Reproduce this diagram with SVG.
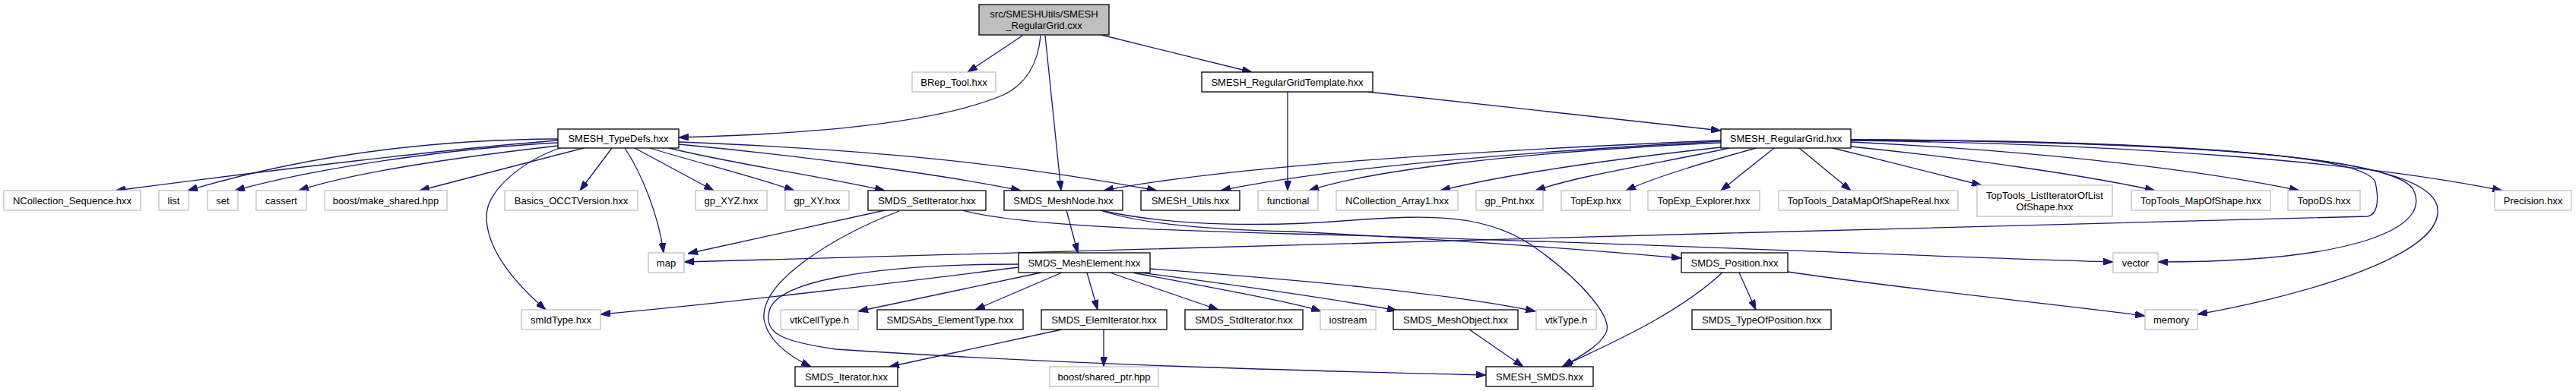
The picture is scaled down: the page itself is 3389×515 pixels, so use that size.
<svg xmlns="http://www.w3.org/2000/svg" width="3389" height="515" viewBox="0 0 3389 515">
<style>
.t{font-family:"Liberation Sans",Arial,sans-serif;font-size:13px;text-anchor:middle;fill:#000}
.g rect{fill:#fff;stroke:#bfbfbf;stroke-width:1.3}
.b rect{fill:#fff;stroke:#000;stroke-width:1.3}
.m rect{fill:#bfbfbf;stroke:#000;stroke-width:1.3}
#edges path{fill:none;stroke:#191970;stroke-width:1.3;marker-end:url(#a)}
</style>
<defs>
<marker id="a" markerWidth="13" markerHeight="9" refX="13" refY="4.5" orient="auto" markerUnits="userSpaceOnUse"><path d="M0,0 L13,4.5 L0,9 z" fill="#191970" stroke="#191970" stroke-width="1"/></marker>
</defs>
<rect width="3389" height="515" fill="#fff"/>
<g id="edges">
<path d="M1345,47 L1273,95"/>
<path d="M1369,47 C1366,80 1352,110 1320,125 C1220,168 1010,178 893,181"/>
<path d="M1375,47 L1396,251"/>
<path d="M1449,46 L1647,95"/>
<path d="M1694,121 L1694,251"/>
<path d="M1800,121 L2264,172"/>
<path d="M734,185 C600,195 350,225 152,251"/>
<path d="M734,183 C560,184 400,205 247,251"/>
<path d="M734,188 C600,195 420,220 309,251"/>
<path d="M734,192 C620,205 470,225 393,251"/>
<path d="M768,195 L552,251"/>
<path d="M805,195 L763,251"/>
<path d="M822,195 C842,225 866,280 873,333"/>
<path d="M740,194 C690,210 640,250 640,285 C640,330 680,375 718,408"/>
<path d="M835,195 L939,251"/>
<path d="M855,195 C920,215 990,232 1045,251"/>
<path d="M880,195 C960,215 1080,232 1164,251"/>
<path d="M893,190 C1050,205 1230,228 1343,251"/>
<path d="M893,187 C1100,195 1300,210 1522,251"/>
<path d="M2264,185 C1900,200 1600,222 1452,251"/>
<path d="M2264,186 C1950,203 1730,225 1606,251"/>
<path d="M2264,188 C2000,200 1800,225 1722,251"/>
<path d="M2264,194 C2100,212 1980,230 1895,251"/>
<path d="M2275,195 C2200,212 2080,230 2020,251"/>
<path d="M2310,195 C2250,212 2180,232 2139,251"/>
<path d="M2334,195 L2264,251"/>
<path d="M2367,195 L2435,251"/>
<path d="M2411,195 C2480,212 2560,232 2607,244"/>
<path d="M2435,193 C2600,210 2750,232 2835,251"/>
<path d="M2435,187 C2700,200 2900,225 3025,251"/>
<path d="M2435,185 C2800,190 3100,212 3292,251"/>
<path d="M2435,184 C2800,185 3110,200 3125,240 C3131,268 3126,283 3115,285 C2400,305 1300,330 900,345"/>
<path d="M2435,184 C2850,186 3150,205 3175,250 C3200,300 3100,345 2839,345"/>
<path d="M2435,184 C2900,188 3185,205 3206,270 C3225,340 3000,395 2891,414"/>
<path d="M1164,277 L905,334"/>
<path d="M1183,278 C1100,310 1000,370 1005,420 C1010,450 1040,470 1067,483"/>
<path d="M1267,277 C1330,295 1500,303 1700,308 C2100,318 2500,337 2780,345"/>
<path d="M1403,277 L1418,333"/>
<path d="M1448,277 C1500,295 1600,303 1700,305 C1900,315 2100,330 2212,340"/>
<path d="M1448,277 C1550,300 1680,298 1780,290 C1880,283 1960,280 2025,330 C2080,370 2125,420 2112,440 C2100,460 2075,470 2057,483"/>
<path d="M1340,348 C1150,348 1020,370 1012,410 C1005,440 1030,450 1100,460 C1400,480 1700,488 1955,494"/>
<path d="M1340,352 C1200,370 950,400 790,414"/>
<path d="M1370,359 L1129,410"/>
<path d="M1397,359 L1283,408"/>
<path d="M1430,359 L1444,408"/>
<path d="M1460,359 L1603,408"/>
<path d="M1490,359 C1600,380 1700,398 1738,410"/>
<path d="M1485,357 C1600,372 1750,393 1838,409"/>
<path d="M1512,354 C1700,368 1900,385 2020,410"/>
<path d="M1397,434 L1170,483"/>
<path d="M1452,434 L1452,483"/>
<path d="M1933,434 L2004,483"/>
<path d="M2266,359 C2200,420 2100,460 2055,483"/>
<path d="M2288,359 L2310,408"/>
<path d="M2352,358 C2500,380 2700,400 2822,416"/>
</g>
<g id="n_main" class="m"><rect x="1288" y="6" width="171" height="40"/><text class="t" x="1373.5" y="23">src/SMESHUtils/SMESH</text><text class="t" x="1373.5" y="38">_RegularGrid.cxx</text></g>
<g id="n_brep_tool" class="g"><rect x="1200" y="95" width="110" height="26"/><text class="t" x="1255" y="112.5">BRep_Tool.hxx</text></g>
<g id="n_template" class="b"><rect x="1581" y="95" width="225" height="26"/><text class="t" x="1693.5" y="112.5">SMESH_RegularGridTemplate.hxx</text></g>
<g id="n_typedefs" class="b"><rect x="734" y="170" width="159" height="25"/><text class="t" x="813.5" y="187">SMESH_TypeDefs.hxx</text></g>
<g id="n_regulargrid" class="b"><rect x="2264" y="170" width="171" height="25"/><text class="t" x="2349.5" y="187">SMESH_RegularGrid.hxx</text></g>
<g id="n_ncoll_seq" class="g"><rect x="5" y="251" width="180" height="26"/><text class="t" x="95" y="268.5">NCollection_Sequence.hxx</text></g>
<g id="n_list" class="g"><rect x="209" y="251" width="39" height="26"/><text class="t" x="228.5" y="268.5">list</text></g>
<g id="n_set" class="g"><rect x="273" y="251" width="40" height="26"/><text class="t" x="293" y="268.5">set</text></g>
<g id="n_cassert" class="g"><rect x="337" y="251" width="66" height="26"/><text class="t" x="370" y="268.5">cassert</text></g>
<g id="n_make_shared" class="g"><rect x="427" y="251" width="161" height="26"/><text class="t" x="507.5" y="268.5">boost/make_shared.hpp</text></g>
<g id="n_basics" class="g"><rect x="664" y="251" width="175" height="26"/><text class="t" x="751.5" y="268.5">Basics_OCCTVersion.hxx</text></g>
<g id="n_gp_xyz" class="g"><rect x="915" y="251" width="94" height="26"/><text class="t" x="962" y="268.5">gp_XYZ.hxx</text></g>
<g id="n_gp_xy" class="g"><rect x="1033" y="251" width="84" height="26"/><text class="t" x="1075" y="268.5">gp_XY.hxx</text></g>
<g id="n_setiterator" class="b"><rect x="1142" y="251" width="155" height="26"/><text class="t" x="1219.5" y="268.5">SMDS_SetIterator.hxx</text></g>
<g id="n_meshnode" class="b"><rect x="1321" y="251" width="156" height="26"/><text class="t" x="1399" y="268.5">SMDS_MeshNode.hxx</text></g>
<g id="n_utils" class="b"><rect x="1501" y="251" width="130" height="26"/><text class="t" x="1566" y="268.5">SMESH_Utils.hxx</text></g>
<g id="n_functional" class="g"><rect x="1655" y="251" width="79" height="26"/><text class="t" x="1694.5" y="268.5">functional</text></g>
<g id="n_ncoll_arr" class="g"><rect x="1758" y="251" width="160" height="26"/><text class="t" x="1838" y="268.5">NCollection_Array1.hxx</text></g>
<g id="n_gp_pnt" class="g"><rect x="1942" y="251" width="88" height="26"/><text class="t" x="1986" y="268.5">gp_Pnt.hxx</text></g>
<g id="n_topexp" class="g"><rect x="2054" y="251" width="91" height="26"/><text class="t" x="2099.5" y="268.5">TopExp.hxx</text></g>
<g id="n_topexp_explorer" class="g"><rect x="2168" y="251" width="147" height="26"/><text class="t" x="2241.5" y="268.5">TopExp_Explorer.hxx</text></g>
<g id="n_datamap" class="g"><rect x="2340" y="251" width="236" height="26"/><text class="t" x="2458" y="268.5">TopTools_DataMapOfShapeReal.hxx</text></g>
<g id="n_listiter" class="g"><rect x="2601" y="244" width="178" height="41"/><text class="t" x="2690" y="262">TopTools_ListIteratorOfList</text><text class="t" x="2690" y="277">OfShape.hxx</text></g>
<g id="n_mapofshape" class="g"><rect x="2804" y="251" width="183" height="26"/><text class="t" x="2895.5" y="268.5">TopTools_MapOfShape.hxx</text></g>
<g id="n_topods" class="g"><rect x="3010" y="251" width="95" height="26"/><text class="t" x="3057.5" y="268.5">TopoDS.hxx</text></g>
<g id="n_precision" class="g"><rect x="3282" y="251" width="101" height="26"/><text class="t" x="3332.5" y="268.5">Precision.hxx</text></g>
<g id="n_map" class="g"><rect x="853" y="333" width="47" height="26"/><text class="t" x="876.5" y="350.5">map</text></g>
<g id="n_meshelement" class="b"><rect x="1340" y="333" width="173" height="26"/><text class="t" x="1426.5" y="350.5">SMDS_MeshElement.hxx</text></g>
<g id="n_position" class="b"><rect x="2212" y="333" width="140" height="26"/><text class="t" x="2282" y="350.5">SMDS_Position.hxx</text></g>
<g id="n_vector" class="g"><rect x="2780" y="333" width="59" height="26"/><text class="t" x="2809.5" y="350.5">vector</text></g>
<g id="n_smidtype" class="g"><rect x="686" y="408" width="104" height="26"/><text class="t" x="738" y="425.5">smIdType.hxx</text></g>
<g id="n_vtkcelltype" class="g"><rect x="1027" y="408" width="102" height="26"/><text class="t" x="1078" y="425.5">vtkCellType.h</text></g>
<g id="n_elementtype" class="b"><rect x="1154" y="408" width="192" height="26"/><text class="t" x="1250" y="425.5">SMDSAbs_ElementType.hxx</text></g>
<g id="n_elemiterator" class="b"><rect x="1370" y="408" width="165" height="26"/><text class="t" x="1452.5" y="425.5">SMDS_ElemIterator.hxx</text></g>
<g id="n_stditerator" class="b"><rect x="1559" y="408" width="155" height="26"/><text class="t" x="1636.5" y="425.5">SMDS_StdIterator.hxx</text></g>
<g id="n_iostream" class="g"><rect x="1737" y="408" width="73" height="26"/><text class="t" x="1773.5" y="425.5">iostream</text></g>
<g id="n_meshobject" class="b"><rect x="1833" y="408" width="164" height="26"/><text class="t" x="1915" y="425.5">SMDS_MeshObject.hxx</text></g>
<g id="n_vtktype" class="g"><rect x="2021" y="408" width="79" height="26"/><text class="t" x="2060.5" y="425.5">vtkType.h</text></g>
<g id="n_typeofposition" class="b"><rect x="2226" y="408" width="183" height="26"/><text class="t" x="2317.5" y="425.5">SMDS_TypeOfPosition.hxx</text></g>
<g id="n_memory" class="g"><rect x="2822" y="408" width="69" height="26"/><text class="t" x="2856.5" y="425.5">memory</text></g>
<g id="n_iterator" class="b"><rect x="1046" y="483" width="135" height="26"/><text class="t" x="1113.5" y="500.5">SMDS_Iterator.hxx</text></g>
<g id="n_shared_ptr" class="g"><rect x="1381" y="483" width="143" height="26"/><text class="t" x="1452.5" y="500.5">boost/shared_ptr.hpp</text></g>
<g id="n_smesh_smds" class="b"><rect x="1955" y="483" width="141" height="26"/><text class="t" x="2025.5" y="500.5">SMESH_SMDS.hxx</text></g>
</svg>
